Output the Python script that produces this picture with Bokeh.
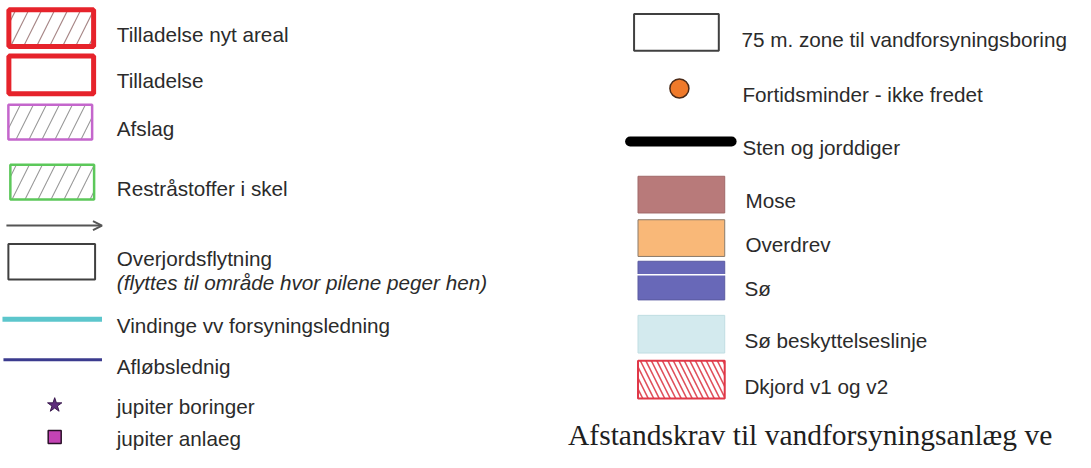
from bokeh.plotting import figure
from bokeh.models import Range1d, Arrow, OpenHead
from bokeh.core.properties import value
from bokeh.embed import file_html
from bokeh.resources import INLINE

# ---------------- content ----------------
left_labels = ["Tilladelse nyt areal", "Tilladelse", "Afslag", "Restråstoffer i skel",
               "Overjordsflytning", "Vindinge vv forsyningsledning", "Afløbslednig",
               "jupiter boringer", "jupiter anlaeg"]
left_note = "(flyttes til område hvor pilene peger hen)"
right_labels = ["75 m. zone til vandforsyningsboring", "Fortidsminder - ikke fredet",
                "Sten og jorddiger", "Mose", "Overdrev", "Sø", "Sø beskyttelseslinje",
                "Dkjord v1 og v2"]
caption = "Afstandskrav til vandforsyningsanlæg ve"

# ---------------- layout / style ----------------
left_text_x = 118
left_baselines = [35, 83, 133, 195, 267, 337, 379, 420, 454]
note_baseline = 292
right_text_x = [752, 753, 753, 756, 756, 755, 755, 755]
right_baselines = [40, 97, 152, 207, 253, 298, 352, 400]
TXT = "#2b2b2b"
SANS = value("Liberation Sans")
SANS_SIZE = value("20.7px")

p = figure(width=1075, height=452, x_range=Range1d(0, 1091), y_range=Range1d(468, 0),
           output_backend="svg", toolbar_location=None, min_border=0,
           x_axis_location=None, y_axis_location=None)
p.grid.visible = False
p.outline_line_color = None
p.background_fill_color = "white"

# boxes (outlined swatches)
boxes = [
    dict(left=8.5, right=94.5, top=9.5, bottom=47.5, line_color="#e6232b", line_width=5,
         hatch_pattern="/", hatch_color="#a88888", hatch_scale=26, hatch_weight=1.2),
    dict(left=8.5, right=94.5, top=57.5, bottom=96.5, line_color="#e6232b", line_width=5,
         hatch_pattern=None, hatch_color="white", hatch_scale=26, hatch_weight=1),
    dict(left=8, right=93, top=108, bottom=144, line_color="#c466cc", line_width=2.5,
         hatch_pattern="/", hatch_color="#999999", hatch_scale=26, hatch_weight=1.1),
    dict(left=10, right=95, top=170, bottom=206, line_color="#5cc85a", line_width=2.5,
         hatch_pattern="/", hatch_color="#999999", hatch_scale=26, hatch_weight=1.1),
    dict(left=8, right=96, top=252, bottom=289, line_color="#404040", line_width=2,
         hatch_pattern=None, hatch_color="white", hatch_scale=26, hatch_weight=1),
    dict(left=643, right=729, top=14, bottom=52, line_color="#404040", line_width=2,
         hatch_pattern=None, hatch_color="white", hatch_scale=26, hatch_weight=1),
    dict(left=647, right=735, top=373, bottom=412, line_color="#e03848", line_width=2,
         hatch_pattern="\\", hatch_color="#e0505c", hatch_scale=11, hatch_weight=1.6),
]
for b in boxes:
    kw = dict(left=[b["left"]], right=[b["right"]], top=[b["top"]], bottom=[b["bottom"]],
              fill_color="white", line_color=b["line_color"], line_width=b["line_width"])
    if b["hatch_pattern"]:
        kw.update(hatch_pattern=b["hatch_pattern"], hatch_color=b["hatch_color"],
                  hatch_scale=b["hatch_scale"], hatch_weight=b["hatch_weight"])
    p.quad(**kw)

# arrow above the Overjordsflytning box
p.add_layout(Arrow(x_start=6, y_start=233, x_end=103, y_end=233, line_color="#555555",
                   line_width=2, end=OpenHead(size=9, line_color="#555555", line_width=2)))

# lines
p.line([2, 103], [330, 330], line_color="#5cc6cc", line_width=5)
p.line([3, 103], [372, 372], line_color="#3b3b8e", line_width=3)

# point markers
p.scatter([55], [419], marker="star", size=15, fill_color="#5e2d7c", line_color="#3a1a4e")
p.scatter([55], [452], marker="square", size=13, fill_color="#c443b4", line_color="#2a1028",
          line_width=1.5)
p.scatter([689], [91], marker="circle", size=19, fill_color="#f07a2a", line_color="#4a2a18",
          line_width=1.5)

# stone wall line
p.line([639, 742], [146, 146], line_color="black", line_width=10, line_cap="round")

# filled area swatches
fills = [
    dict(top=182, bottom=220, color="#b87a7a", line="#a06868"),
    dict(top=227, bottom=265, color="#f9b878", line="#8a7a6a"),
    dict(top=270, bottom=310, color="#6868b8", line="#5a5aa0"),
    dict(top=326, bottom=365, color="#d3eaee", line="#c0dde2"),
]
for f in fills:
    p.quad(left=[647], right=[735], top=[f["top"]], bottom=[f["bottom"]],
           fill_color=f["color"], line_color=f["line"], line_width=1)
p.line([645, 737], [284, 284], line_color="white", line_width=1.5)

# texts
p.text(x=[left_text_x] * len(left_labels), y=left_baselines, text=left_labels,
       text_font=SANS, text_font_size=SANS_SIZE, text_color=TXT,
       text_baseline="alphabetic", text_align="left")
p.text(x=[left_text_x], y=[note_baseline], text=[left_note], text_font=SANS,
       text_font_style="italic", text_font_size=SANS_SIZE, text_color=TXT,
       text_baseline="alphabetic", text_align="left")
p.text(x=right_text_x, y=right_baselines, text=right_labels,
       text_font=SANS, text_font_size=SANS_SIZE, text_color=TXT,
       text_baseline="alphabetic", text_align="left")
p.text(x=[576], y=[450], text=[caption], text_font=value("Liberation Serif"),
       text_font_size=value("29.5px"), text_color="#1e1e1e",
       text_baseline="alphabetic", text_align="left")

open("out.html", "w").write(file_html(p, INLINE))
